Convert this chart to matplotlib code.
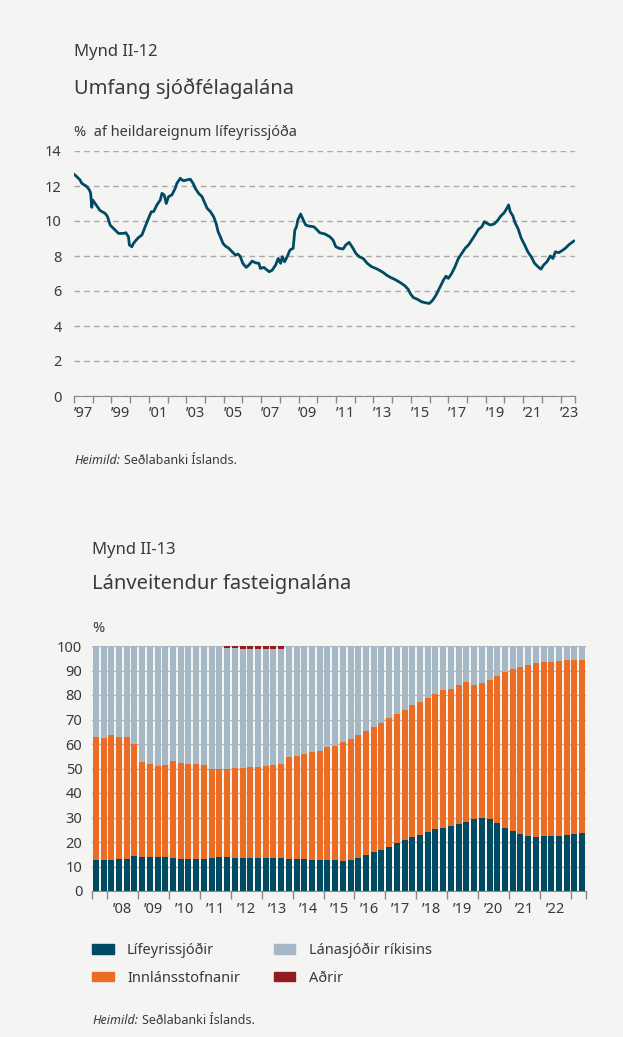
import matplotlib.pyplot as plt
from matplotlib.patches import Patch

plt.rcParams['font.family'] = ['Noto Sans', 'DejaVu Sans']

W, H = 623, 1037
bg = '#f4f4f2'
txt = '#3a3a3a'
teal = '#004b63'
orange = '#ec6c23'
light = '#a6b8c5'
red = '#931a1f'

# Mynd II-12: umfang sjóðfélagalána, % af heildareignum lífeyrissjóða
line_t = [1997.00, 1997.14, 1997.32, 1997.41, 1997.68, 1997.82, 1997.89, 1997.95, 1998.00, 1998.13,
          1998.39, 1998.66, 1998.79, 1998.93, 1999.02, 1999.20, 1999.38, 1999.64, 1999.77, 1999.91,
          1999.96, 2000.09, 2000.18, 2000.32, 2000.45, 2000.63, 2000.80, 2000.98, 2001.13, 2001.25,
          2001.43, 2001.61, 2001.70, 2001.82, 2001.93, 2002.05, 2002.23, 2002.41, 2002.50, 2002.68,
          2002.77, 2002.86, 2003.04, 2003.21, 2003.36, 2003.48, 2003.66, 2003.84, 2003.96, 2004.11,
          2004.29, 2004.46, 2004.59, 2004.70, 2004.82, 2004.96, 2005.09, 2005.27, 2005.45, 2005.63,
          2005.77, 2005.89, 2006.02, 2006.20, 2006.34, 2006.52, 2006.70, 2006.88, 2006.96, 2007.14,
          2007.32, 2007.43, 2007.59, 2007.77, 2007.91, 2008.04, 2008.13, 2008.25, 2008.39, 2008.54,
          2008.71, 2008.80, 2008.89, 2008.96, 2009.11, 2009.25, 2009.38, 2009.55, 2009.82, 2010.00,
          2010.13, 2010.40, 2010.67, 2010.84, 2010.99, 2011.17, 2011.38, 2011.52, 2011.70, 2011.88,
          2012.06, 2012.24, 2012.45, 2012.67, 2012.90, 2013.13, 2013.31, 2013.52, 2013.70, 2013.92,
          2014.15, 2014.42, 2014.68, 2014.86, 2014.99, 2015.13, 2015.36, 2015.58, 2015.81, 2015.99,
          2016.17, 2016.34, 2016.56, 2016.74, 2016.88, 2017.00, 2017.18, 2017.36, 2017.54, 2017.72,
          2017.90, 2018.08, 2018.25, 2018.43, 2018.61, 2018.79, 2018.93, 2019.06, 2019.24, 2019.45,
          2019.63, 2019.81, 2019.99, 2020.13, 2020.22, 2020.31, 2020.45, 2020.58, 2020.72, 2020.90,
          2021.08, 2021.25, 2021.43, 2021.61, 2021.79, 2021.95, 2022.09, 2022.27, 2022.45, 2022.59,
          2022.72, 2022.90, 2023.07, 2023.25, 2023.43, 2023.70]
line_v = [12.67, 12.54, 12.35, 12.16, 11.97, 11.78, 11.59, 10.78, 11.20, 11.00,
          10.60, 10.44, 10.25, 9.77, 9.67, 9.48, 9.29, 9.29, 9.33, 9.10,
          8.63, 8.53, 8.72, 8.91, 9.06, 9.20, 9.67, 10.15, 10.53, 10.53,
          10.92, 11.20, 11.58, 11.49, 11.00, 11.39, 11.49, 11.87, 12.16, 12.44,
          12.35, 12.30, 12.35, 12.39, 12.16, 11.87, 11.58, 11.39, 11.10, 10.73,
          10.53, 10.25, 9.87, 9.39, 9.10, 8.72, 8.57, 8.44, 8.24, 8.05,
          8.11, 7.96, 7.58, 7.35, 7.48, 7.71, 7.61, 7.58, 7.29, 7.35,
          7.19, 7.10, 7.19, 7.48, 7.86, 7.58, 7.96, 7.67, 7.96, 8.34,
          8.44, 9.48, 9.67, 10.06, 10.40, 10.06, 9.77, 9.71, 9.67, 9.48,
          9.33, 9.26, 9.10, 8.91, 8.53, 8.44, 8.40, 8.63, 8.78, 8.49,
          8.15, 7.96, 7.86, 7.58, 7.39, 7.29, 7.19, 7.06, 6.91, 6.77,
          6.66, 6.49, 6.30, 6.09, 5.82, 5.63, 5.52, 5.38, 5.32, 5.29,
          5.48, 5.76, 6.24, 6.62, 6.85, 6.72, 7.00, 7.39, 7.86, 8.15,
          8.44, 8.63, 8.91, 9.20, 9.52, 9.67, 9.96, 9.87, 9.77, 9.83,
          10.02, 10.29, 10.48, 10.73, 10.92, 10.53, 10.29, 9.87, 9.58, 9.01,
          8.63, 8.24, 7.96, 7.58, 7.39, 7.25, 7.48, 7.67, 8.00, 7.86,
          8.24, 8.19, 8.30, 8.44, 8.63, 8.85]
line_years = list(range(1997, 2024))
line_labels = ['’97', '’99', '’01', '’03', '’05', '’07', '’09', '’11', '’13', '’15', '’17', '’19', '’21', '’23']

# Mynd II-13: lánveitendur fasteignalána, ársfjórðungar 2007F3 - 2023F2
quarters = [f'{y}Q{q}' for y in range(2007, 2024) for q in range(1, 5)][2:-2]
lifeyris = [12.5, 12.5, 12.5, 12.9, 12.9, 14.2, 13.8, 13.8, 13.8, 13.8, 13.4, 12.9,
            12.9, 12.9, 12.9, 13.4, 13.8, 13.8, 13.4, 13.4, 13.4, 13.4, 13.4, 13.4, 13.4, 12.9, 12.9, 12.9,
            12.5, 12.5, 12.5, 12.5, 12.1, 12.5, 13.4, 14.6, 15.8, 16.6, 17.8, 19.5, 20.7, 21.9, 22.8, 24.0,
            25.2, 25.6, 26.4,
            27.2, 28.1, 29.3, 29.7, 29.3, 27.7, 25.6, 24.4, 23.2, 22.3, 21.9, 22.3, 22.3, 22.3, 22.8, 23.2, 23.6]
innlans = [50.3, 50.0, 51.1, 49.9, 49.9, 45.8, 38.8, 38.0, 37.2, 37.6, 39.6, 39.3,
           38.9, 38.9, 38.5, 36.3, 35.9, 35.9, 36.7, 36.7, 37.1, 37.1, 37.6, 38.0, 38.4, 41.7, 42.1, 43.0,
           44.2, 44.6, 46.2, 46.6, 48.7, 49.5, 50.2, 50.7, 51.1, 51.9, 52.8, 52.7, 53.1, 54.0, 54.3, 54.7,
           55.2, 56.4, 56.0,
           56.9, 57.2, 54.8, 55.2, 56.8, 60.0, 63.8, 66.2, 68.2, 69.9, 71.2, 71.2, 71.2, 71.6, 71.5, 71.1, 70.7]
lanasjodir = [37.2, 37.5, 36.4, 37.2, 37.2, 40.0, 47.4, 48.2, 49.0, 48.6, 47.0, 47.8,
              48.2, 48.2, 48.6, 50.3, 50.3, 49.5, 49.1, 48.7, 48.3, 48.3, 47.8, 47.4, 47.0, 45.4, 45.0, 44.1,
              43.3, 42.9, 41.3, 40.9, 39.2, 38.0, 36.4, 34.7, 33.1, 31.5, 29.4, 27.8, 26.2, 24.1, 22.9, 21.3,
              19.6, 18.0, 17.6,
              15.9, 14.7, 15.9, 15.1, 13.9, 12.3, 10.6, 9.4, 8.6, 7.8, 6.9, 6.5, 6.5, 6.1, 5.7, 5.7, 5.7]
adrir = [0] * 17 + [0.8, 0.8, 1.2, 1.2, 1.2, 1.2, 1.2, 1.2] + [0] * 39
bar_years = list(range(2008, 2024))
bar_labels = ['’08', '’09', '’10', '’11', '’12', '’13', '’14', '’15', '’16', '’17', '’18', '’19', '’20', '’21', '’22']
legend_names = ['Lífeyrissjóðir', 'Innlánsstofnanir', 'Lánasjóðir ríkisins', 'Aðrir']


def px_axes(fig, x0, y0, x1, y1):
    return fig.add_axes([x0 / W, 1 - y1 / H, (x1 - x0) / W, (y1 - y0) / H])


def source(fig, ax, x, y):
    t = fig.text(x / W, 1 - y / H, 'Heimild:', fontsize=9, style='italic', color=txt, va='baseline')
    ax.annotate('Seðlabanki Íslands.', xy=(1, 0), xycoords=t, xytext=(3, 0),
                textcoords='offset points', fontsize=9, color=txt, va='bottom',
                annotation_clip=False)


fig = plt.figure(figsize=(W / 100, H / 100), dpi=100, facecolor=bg)

# ---- top chart
ax1 = px_axes(fig, 74, 151, 575, 396)
ax1.set_facecolor(bg)
ax1.plot(line_t, line_v, color=teal, lw=2.0, solid_joinstyle='round')
ax1.set_ylim(0, 14)
ax1.set_xlim(1997, 2023.77)
ax1.set_yticks(range(0, 15, 2))
ax1.yaxis.grid(True, color='#a9a9a9', ls=(0, (4, 3)), lw=1.0)
ax1.set_axisbelow(True)
ax1.set_xticks(line_years + [2023.77])
ax1.set_xticklabels([])
ax1.set_xticks([y + 0.5 for y in range(1997, 2024, 2)], minor=True)
ax1.set_xticklabels(line_labels, minor=True)
ax1.tick_params(axis='x', which='major', length=5, color='#8a8a8a', width=1)
ax1.tick_params(axis='x', which='minor', length=0, pad=7, labelsize=10.5, labelcolor=txt)
ax1.tick_params(axis='y', length=0, pad=9, labelsize=10.5, labelcolor=txt)
for s in ['top', 'right', 'left']:
    ax1.spines[s].set_visible(False)
ax1.spines['bottom'].set_color('#8a8a8a')

fig.text(74 / W, 1 - 52 / H, 'Mynd II-12', fontsize=12, color=txt, va='center')
fig.text(74 / W, 1 - 88 / H, 'Umfang sjóðfélagalána', fontsize=14.5, color=txt, va='center')
fig.text(74 / W, 1 - 132 / H, '%  af heildareignum lífeyrissjóða', fontsize=10.5, color=txt, va='center')
source(fig, ax1, 74, 464)

# ---- bottom chart
ax2 = px_axes(fig, 92, 646, 586, 891)
ax2.set_facecolor(bg)
xq = [int(q[:4]) + (int(q[-1]) - 1) * 0.25 + 0.125 for q in quarters]
bw = 0.25 * 0.78
bottom = [0.0] * len(xq)
for vals, col in [(lifeyris, teal), (innlans, orange), (lanasjodir, light), (adrir, red)]:
    ax2.bar(xq, vals, width=bw, bottom=bottom, color=col, linewidth=0)
    bottom = [b + v for b, v in zip(bottom, vals)]
ax2.set_ylim(0, 100)
ax2.set_xlim(2007.5, 2023.5)
ax2.set_yticks(range(0, 101, 10))
ax2.yaxis.grid(True, color='#b4b4b4', lw=1.0)
ax2.set_axisbelow(True)
ax2.set_xticks([2007.5] + bar_years + [2023.5])
ax2.set_xticklabels([])
ax2.set_xticks([y + 0.5 for y in range(2008, 2023)], minor=True)
ax2.set_xticklabels(bar_labels, minor=True)
ax2.tick_params(axis='x', which='major', length=6, color='#8a8a8a', width=1)
ax2.tick_params(axis='x', which='minor', length=0, pad=8, labelsize=10.5, labelcolor=txt)
ax2.tick_params(axis='y', length=0, pad=7, labelsize=10.5, labelcolor=txt)
for s in ['top', 'right', 'left']:
    ax2.spines[s].set_visible(False)
ax2.spines['bottom'].set_color('#8a8a8a')

fig.text(92 / W, 1 - 550 / H, 'Mynd II-13', fontsize=12, color=txt, va='center')
fig.text(92 / W, 1 - 584 / H, 'Lánveitendur fasteignalána', fontsize=14.5, color=txt, va='center')
fig.text(92 / W, 1 - 628 / H, '%', fontsize=10.5, color=txt, va='center')

handles = [Patch(color=c) for c in [teal, orange, light, red]]
fig.legend(handles, legend_names, ncol=2, loc='upper left', bbox_to_anchor=(92 / W, 1 - 943 / H),
           frameon=False, fontsize=10.5, labelcolor=txt, handlelength=1.5, handleheight=0.6,
           handletextpad=0.9, columnspacing=2.3, labelspacing=0.85, borderpad=0, borderaxespad=0)

source(fig, ax2, 92, 1024)

fig.savefig('out.png', dpi=100, facecolor=bg)
